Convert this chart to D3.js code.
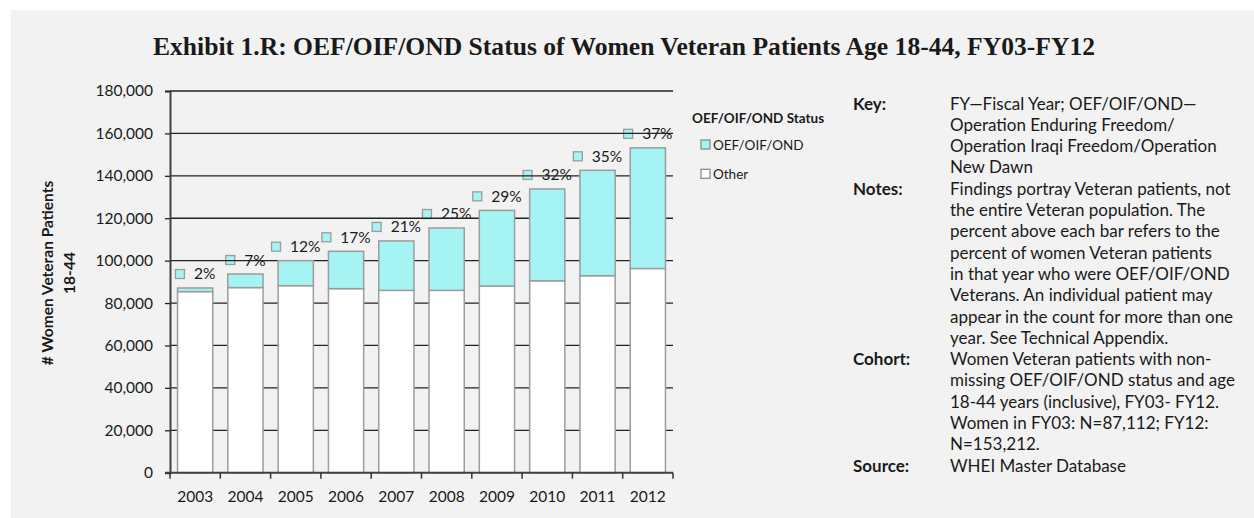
<!DOCTYPE html>
<html>
<head>
<meta charset="utf-8">
<script src="https://cdn.jsdelivr.net/npm/d3@7"></script>
<style>
  body { margin:0; background:#fff; }
  text { font-family: Lato, "Open Sans", sans-serif; fill:#1a1a1a; }
</style>
</head>
<body>
<div id="chart"></div>
<script>
// values
var years = ["2003","2004","2005","2006","2007","2008","2009","2010","2011","2012"];
var otherVals = [85400, 87300, 88200, 86800, 86000, 86000, 88000, 90500, 92900, 96300];
var oefVals   = [1700, 6400, 11800, 17600, 23300, 29400, 35700, 43300, 49700, 56900];
var pctLabels = ["2%","7%","12%","17%","21%","25%","29%","32%","35%","37%"];
var yTicks = [0,20000,40000,60000,80000,100000,120000,140000,160000,180000];
var legendNames = ["OEF/OIF/OND","Other"];

var noteHeads = ["Key:","Notes:","Cohort:","Source:"];
var noteBodies = [
  ["FY\u2014Fiscal Year; OEF/OIF/OND\u2014","Operation Enduring Freedom/","Operation Iraqi Freedom/Operation","New Dawn"],
  ["Findings portray Veteran patients, not","the entire Veteran population. The","percent above each bar refers to the",
   "percent of women Veteran patients","in that year who were OEF/OIF/OND","Veterans. An individual patient may",
   "appear in the count for more than one","year. See Technical Appendix."],
  ["Women Veteran patients with non-","missing OEF/OIF/OND status and age","18-44 years (inclusive), FY03- FY12.",
   "Women in FY03: N=87,112; FY12:","N=153,212."],
  ["WHEI Master Database"]
];

var W = 1254, H = 518;
var cyan = "#a6f3f3", barStroke = "#9c9c9c";

var svg = d3.select("#chart").append("svg")
  .attr("width", W).attr("height", H);

svg.append("rect").attr("x",11).attr("y",10).attr("width",W-11).attr("height",H-10)
  .attr("fill","#f2f2f2");

// title
svg.append("text")
  .attr("x", 624).attr("y", 55)
  .attr("text-anchor","middle")
  .attr("textLength", 942).attr("lengthAdjust","spacingAndGlyphs")
  .style("font-family","'Liberation Serif', 'DejaVu Serif', serif")
  .style("font-weight","bold").style("font-size","25px")
  .text("Exhibit 1.R: OEF/OIF/OND Status of Women Veteran Patients Age 18-44, FY03-FY12");

// scales
var x = d3.scaleBand().domain(years).range([170, 673])
  .paddingInner(0.3).paddingOuter(0.15);
var y = d3.scaleLinear().domain([0, 180000]).range([472.7, 91]);

// percent labels (drawn under the gridlines like the original)
var lab = svg.append("g").selectAll("g").data(years).enter().append("g");
lab.each(function(d,i){
  var g = d3.select(this);
  var t = g.append("text").style("font-size","15.5px").text(pctLabels[i]);
  var tw = t.node().getComputedTextLength();
  var total = 10 + 9 + tw;
  var cx = x(d) + x.bandwidth()/2;
  var cy = y(otherVals[i] + oefVals[i]) - 14;
  var left = cx - total/2;
  g.insert("rect","text").attr("x", left+0.5).attr("y", cy-4.5)
    .attr("width",9).attr("height",9)
    .attr("fill",cyan).attr("stroke",barStroke).attr("stroke-width",1.3);
  t.attr("x", left + 19).attr("y", cy + 5.5);
});

// gridlines
svg.append("g").selectAll("line").data(yTicks.filter(function(d){return d>0;}))
  .enter().append("line")
  .attr("x1",170).attr("x2",673)
  .attr("y1",function(d){return y(d);}).attr("y2",function(d){return y(d);})
  .attr("stroke","#222").attr("stroke-width",1.3);

// bars
var bars = svg.append("g");
bars.selectAll("rect.other").data(years).enter().append("rect")
  .attr("class","other")
  .attr("x",function(d){return x(d);})
  .attr("width",x.bandwidth())
  .attr("y",function(d,i){return y(otherVals[i]);})
  .attr("height",function(d,i){return y(0)-y(otherVals[i]);})
  .attr("fill","#fff").attr("stroke",barStroke).attr("stroke-width",1.5);
bars.selectAll("rect.oef").data(years).enter().append("rect")
  .attr("class","oef")
  .attr("x",function(d){return x(d);})
  .attr("width",x.bandwidth())
  .attr("y",function(d,i){return y(otherVals[i]+oefVals[i]);})
  .attr("height",function(d,i){return y(otherVals[i])-y(otherVals[i]+oefVals[i]);})
  .attr("fill",cyan).attr("stroke",barStroke).attr("stroke-width",1.5);

// y axis
var yAxis = svg.append("g").attr("transform","translate(170,0)")
  .call(d3.axisLeft(y).tickValues(yTicks).tickSize(5).tickPadding(12)
    .tickFormat(d3.format(",")));
yAxis.select(".domain").attr("stroke","#404040").attr("stroke-width",2);
yAxis.selectAll(".tick line").attr("stroke","#222").attr("stroke-width",1.3);
yAxis.selectAll("text").style("font-size","15.5px").attr("fill","#1a1a1a")
  .style("font-family","Lato, sans-serif");

// x axis
var xAxis = svg.append("g").attr("transform","translate(0,"+y(0)+")")
  .call(d3.axisBottom(x).tickSize(0).tickPadding(18));
xAxis.select(".domain").attr("stroke","#404040").attr("stroke-width",2)
  .attr("d","M165,0H673");
xAxis.selectAll("text").style("font-size","15.5px").attr("fill","#1a1a1a")
  .style("font-family","Lato, sans-serif");
// ticks on band boundaries
xAxis.selectAll("line.bound").data(d3.range(years.length+1)).enter().append("line")
  .attr("class","bound")
  .attr("x1",function(i){return x.range()[0] + i*x.step();})
  .attr("x2",function(i){return x.range()[0] + i*x.step();})
  .attr("y1",0).attr("y2",6)
  .attr("stroke","#333").attr("stroke-width",1.5);

// y title
var yt = svg.append("g").attr("transform","translate(0,273)");
yt.append("text").attr("transform","translate(52.5,0) rotate(-90)")
  .attr("text-anchor","middle").style("font-weight","bold").style("font-size","15.5px")
  .text("# Women Veteran Patients");
yt.append("text").attr("transform","translate(74.5,0) rotate(-90)")
  .attr("text-anchor","middle").style("font-weight","bold").style("font-size","15.5px")
  .text("18-44");

// legend
var leg = svg.append("g");
leg.append("text").attr("x",692).attr("y",122.5)
  .style("font-weight","bold").style("font-size","13.5px").text("OEF/OIF/OND Status");
var legFill = [cyan, "#fff"];
legendNames.forEach(function(n,i){
  var ly = 140 + i*29.3;
  leg.append("rect").attr("x",701).attr("y",ly).attr("width",9).attr("height",9)
    .attr("fill",legFill[i]).attr("stroke","#8c8c8c").attr("stroke-width",1.3);
  leg.append("text").attr("x",713).attr("y",ly+9.5)
    .style("font-size","13.5px").text(n);
});

// notes block
var notes = svg.append("g");
var lineH = 21.3, ny = 109.5;
noteHeads.forEach(function(h,k){
  notes.append("text").attr("x",853).attr("y",ny)
    .style("font-weight","bold").style("font-size","17px").text(h);
  noteBodies[k].forEach(function(s){
    notes.append("text").attr("x",950).attr("y",ny)
      .style("font-size","17px").text(s);
    ny += lineH;
  });
});
</script>
</body>
</html>
